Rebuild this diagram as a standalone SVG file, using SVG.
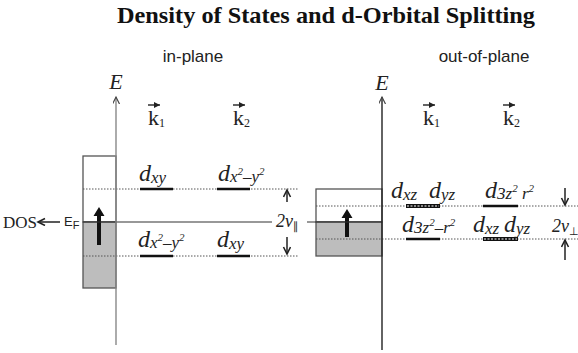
<svg xmlns="http://www.w3.org/2000/svg" width="578" height="353" viewBox="0 0 578 353">
<style>
.title{font:bold 24px "Liberation Serif",serif;fill:#111}
.hdr{font:17px "Liberation Sans",Arial,sans-serif;fill:#222}
.it{font-family:"Liberation Serif",serif;font-style:italic;font-size:24px;fill:#222}
.E{font-family:"Liberation Serif",serif;font-style:italic;font-size:22px;fill:#222}
.sub{font-size:17px}
.sup{font-size:11px}
.k{font:22px "Liberation Serif",serif;fill:#222}
.ks{font-size:12px}
.nu{font-family:"Liberation Serif",serif;font-style:italic;font-size:18px;fill:#222}
.sym{font-family:"DejaVu Sans",sans-serif;font-style:normal;font-size:11px}
.dot{stroke:#555;stroke-width:1;stroke-dasharray:1.5 1.5;fill:none}
.lvl{stroke:#111;stroke-width:2.5}
.stripe{fill:#111}
.stripe-in{stroke:#fff;stroke-width:1.1;stroke-dasharray:2 1.5}
.thin{stroke:#222;stroke-width:1.5;fill:none}
.box{stroke:#555;stroke-width:1.3}
.vec{stroke:#222;stroke-width:1.4}
</style>
<defs>
<marker id="open" markerWidth="10" markerHeight="10" refX="8" refY="4" orient="auto" markerUnits="userSpaceOnUse">
<path d="M1,0.5 L8,4 L1,7.5" fill="none" stroke="#222" stroke-width="1.6"/>
</marker>
<marker id="axhead" markerWidth="10" markerHeight="10" refX="7" refY="3.5" orient="auto" markerUnits="userSpaceOnUse">
<path d="M0,0 L7,3.5 L0,7" fill="none" stroke="#444" stroke-width="1.2"/>
</marker>
<marker id="vhead" markerWidth="8" markerHeight="8" refX="6" refY="3" orient="auto" markerUnits="userSpaceOnUse">
<path d="M0,0 L6,3 L0,6 z" fill="#222"/>
</marker>
</defs>

<text class="title" x="117" y="23" textLength="418" lengthAdjust="spacingAndGlyphs">Density of States and d-Orbital Splitting</text>
<text class="hdr" x="193" y="62" text-anchor="middle">in-plane</text>
<text class="hdr" x="484" y="62" text-anchor="middle">out-of-plane</text>

<g id="dos-left">
<rect class="box" x="83" y="156" width="33" height="66" fill="#fff"/>
<rect class="box" x="83" y="222" width="33" height="66" fill="#bdbdbd"/>
<path d="M97,245 V216 H93.5 L99,207 L104.5,216 H101 V245 z" fill="#111"/>
</g>
<g id="dos-right">
<rect class="box" x="316" y="189" width="66" height="33" fill="#fff"/>
<rect class="box" x="316" y="222" width="66" height="34" fill="#bdbdbd"/>
<path d="M345,237 V218 H341.5 L347,209 L352.5,218 H349 V237 z" fill="#111"/>
</g>

<g id="connectors">
<line class="dot" x1="83" y1="189" x2="299" y2="189"/>
<line class="dot" x1="83" y1="256" x2="299" y2="256"/>
<line class="dot" x1="316" y1="206" x2="578" y2="206"/>
<line class="dot" x1="316" y1="239" x2="578" y2="239"/>
<line x1="83" y1="222" x2="272" y2="222" stroke="#333" stroke-width="1.2"/>
<line x1="307" y1="222" x2="382" y2="222" stroke="#333" stroke-width="1.2"/>
<line x1="116" y1="345" x2="116" y2="97" stroke="#888" stroke-width="1.4" marker-end="url(#axhead)"/>
<line x1="382" y1="350" x2="382" y2="97" stroke="#222" stroke-width="1.4" marker-end="url(#axhead)"/>
<line class="thin" x1="60" y1="222" x2="38" y2="222" marker-end="url(#open)"/>
<line class="thin" x1="287" y1="202" x2="287" y2="190" marker-end="url(#open)"/>
<line class="thin" x1="287" y1="237" x2="287" y2="254" marker-end="url(#open)"/>
<line class="thin" x1="565" y1="188" x2="565" y2="205" marker-end="url(#open)"/>
<line class="thin" x1="565" y1="260" x2="565" y2="240" marker-end="url(#open)"/>
</g>

<g id="axis-labels">
<text class="E" x="116" y="89" text-anchor="middle">E</text>
<text class="E" x="382" y="90" text-anchor="middle">E</text>
<text x="3" y="228" font-family="Liberation Serif,serif" font-size="17" fill="#222">DOS</text>
<text x="64" y="226" font-family="Liberation Sans,Arial,sans-serif" font-size="13" fill="#222">E<tspan font-size="11" dy="3">F</tspan></text>
</g>

<g id="k-labels">
<line class="vec" x1="148" y1="105" x2="160" y2="105" marker-end="url(#vhead)"/>
<text class="k" x="148" y="125">k<tspan class="ks" dy="2">1</tspan></text>
<line class="vec" x1="233" y1="105" x2="245" y2="105" marker-end="url(#vhead)"/>
<text class="k" x="233" y="125">k<tspan class="ks" dy="2">2</tspan></text>
<line class="vec" x1="423" y1="105" x2="435" y2="105" marker-end="url(#vhead)"/>
<text class="k" x="423" y="125">k<tspan class="ks" dy="2">1</tspan></text>
<line class="vec" x1="503" y1="105" x2="515" y2="105" marker-end="url(#vhead)"/>
<text class="k" x="503" y="125">k<tspan class="ks" dy="2">2</tspan></text>
</g>

<g id="inplane-levels">
<line class="lvl" x1="140" y1="189" x2="173" y2="189"/>
<line class="lvl" x1="217" y1="189" x2="250" y2="189"/>
<line class="lvl" x1="140" y1="256" x2="173" y2="256"/>
<line class="lvl" x1="217" y1="256" x2="250" y2="256"/>
<text class="it" x="139" y="181">d<tspan class="sub" dy="2">xy</tspan></text>
<text class="it" x="218" y="181">d<tspan class="sub" dy="1">x</tspan><tspan class="sup" dy="-7">2</tspan><tspan class="sub" dy="7">–y</tspan><tspan class="sup" dy="-7">2</tspan></text>
<text class="it" x="138" y="247">d<tspan class="sub" dy="1">x</tspan><tspan class="sup" dy="-7">2</tspan><tspan class="sub" dy="7">–y</tspan><tspan class="sup" dy="-7">2</tspan></text>
<text class="it" x="217" y="247">d<tspan class="sub" dy="2">xy</tspan></text>
<text class="nu" x="276" y="227">2ν<tspan class="sym" dy="3">∥</tspan></text>
</g>

<g id="outplane-levels">
<rect class="stripe" x="406" y="204" width="34" height="4"/>
<line class="stripe-in" x1="407" y1="206" x2="439" y2="206"/>
<line class="lvl" x1="483" y1="206" x2="518" y2="206"/>
<line class="lvl" x1="406" y1="239" x2="440" y2="239"/>
<rect class="stripe" x="483" y="237" width="35" height="4"/>
<line class="stripe-in" x1="484" y1="239" x2="517" y2="239"/>
<text class="it" x="391" y="198">d<tspan class="sub" dy="2">xz</tspan></text>
<text class="it" x="429" y="198">d<tspan class="sub" dy="2">yz</tspan></text>
<text class="it" x="485" y="198">d<tspan class="sub" dy="1">3z</tspan><tspan class="sup" dy="-7">2</tspan><tspan class="sub" dy="7"> r</tspan><tspan class="sup" dy="-7">2</tspan></text>
<text class="it" x="402" y="232">d<tspan class="sub" dy="1">3z</tspan><tspan class="sup" dy="-7">2</tspan><tspan class="sub" dy="7">–r</tspan><tspan class="sup" dy="-7">2</tspan></text>
<text class="it" x="473" y="232">d<tspan class="sub" dy="2">xz</tspan></text>
<text class="it" x="504" y="232">d<tspan class="sub" dy="2">yz</tspan></text>
<text class="nu" x="552" y="232" font-size="17">2ν<tspan class="sym" dy="3">⊥</tspan></text>
</g>
</svg>
